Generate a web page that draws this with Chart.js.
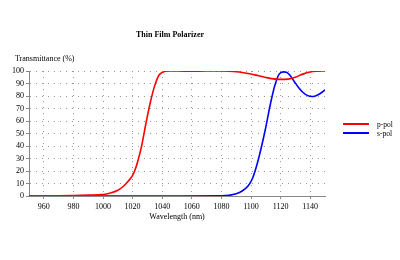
<!DOCTYPE html>
<html>
<head>
<meta charset="utf-8">
<script src="https://cdn.jsdelivr.net/npm/chart.js@4.4.0/dist/chart.umd.min.js"></script>
<style>
  html, body { margin: 0; padding: 0; background: #fff; }
  #wrap { width: 400px; height: 260px; }
</style>
</head>
<body>
<div id="wrap"><canvas id="polar" width="400" height="260"></canvas></div>
<script>
// wavelength (nm) / transmittance (%)
var pWave = [950, 970, 980, 990, 1000, 1005, 1010, 1014, 1017, 1020, 1022, 1024, 1026, 1029, 1032, 1035, 1038, 1041, 1044, 1050, 1060, 1070, 1080, 1085, 1090, 1095, 1100, 1105, 1110, 1115, 1120, 1125, 1130, 1135, 1140, 1145, 1150];
var pVals = [0, 0.2, 0.4, 0.7, 1.2, 2.4, 4.6, 8, 11.8, 16.5, 22, 30, 39.5, 58, 75, 88.5, 97, 99.3, 100, 100, 99.8, 100, 100, 99.8, 99.4, 98.6, 97.6, 96.2, 94.8, 93.7, 93.3, 93.5, 95, 97.5, 99.2, 99.8, 100];
var sWave = [950, 1000, 1050, 1080, 1085, 1090, 1094, 1098, 1101, 1104, 1107, 1110, 1113, 1116, 1119, 1122, 1124, 1126, 1129, 1132, 1135, 1138, 1141, 1143, 1145, 1148, 1150];
var sVals = [0, 0, 0, 0.1, 0.5, 1.8, 4, 8, 14, 25, 39, 55, 73, 88, 97.5, 99.3, 99, 97, 92, 87, 83, 80.5, 79.6, 79.8, 80.8, 83, 85];
var xTicks = [960, 980, 1000, 1020, 1040, 1060, 1080, 1100, 1120, 1140];
var yTicks = [0, 10, 20, 30, 40, 50, 60, 70, 80, 90, 100];
var seriesNames = ['p-pol', 's-pol'];
var seriesColors = ['rgb(255,0,0)', 'rgb(0,0,255)'];

function toPoints(xs, ys) {
  return xs.map(function(x, i){ return {x: x, y: ys[i]}; });
}

var serif = "'Liberation Serif', 'DejaVu Serif', serif";

// title, axis titles and legend
var textPlugin = {
  id: 'texts',
  afterDraw: function(chart) {
    var c = chart.ctx, a = chart.chartArea;
    c.save();
    c.fillStyle = '#000';
    c.textBaseline = 'middle';
    c.font = 'bold 8px ' + serif;
    c.textAlign = 'center';
    c.fillText('Thin Film Polarizer', 170, 35);
    c.font = '8px ' + serif;
    c.textAlign = 'left';
    c.fillText('Transmittance (%)', 15, 59);
    c.textAlign = 'center';
    c.fillText('Wavelength (nm)', (a.left + a.right) / 2, 217);
    c.font = '7.5px ' + serif;
    seriesNames.forEach(function(name, i){
      var y = 124 + i * 9;
      c.strokeStyle = seriesColors[i];
      c.lineWidth = 2;
      c.beginPath();
      c.moveTo(343, y);
      c.lineTo(369, y);
      c.stroke();
      c.textAlign = 'left';
      c.fillText(name, 377, y + 1);
    });
    c.restore();
  }
};

var ctx = document.getElementById('polar');
var myChart = new Chart(ctx, {
  type: 'line',
  data: {
    datasets: [{
      label: seriesNames[0],
      data: toPoints(pWave, pVals),
      borderColor: seriesColors[0],
      borderWidth: 1.6,
      pointRadius: 0,
      cubicInterpolationMode: 'monotone',
      fill: false
    }, {
      label: seriesNames[1],
      data: toPoints(sWave, sVals),
      borderColor: seriesColors[1],
      borderWidth: 1.6,
      pointRadius: 0,
      cubicInterpolationMode: 'monotone',
      fill: false
    }]
  },
  options: {
    responsive: false,
    animation: false,
    layout: { padding: { left: 0, right: 75, top: 71, bottom: 0 } },
    plugins: { legend: { display: false }, title: { display: false }, tooltip: { enabled: false } },
    scales: {
      x: {
        type: 'linear',
        min: 950,
        max: 1150,
        afterBuildTicks: function(s){ s.ticks = xTicks.map(function(v){ return {value: v}; }); },
        afterFit: function(s){ s.height = 64; },
        border: { color: '#888', width: 1, dash: [1, 5] },
        grid: { color: '#999', lineWidth: 1, tickLength: 3, tickBorderDash: [], tickColor: '#888' },
        ticks: {
          color: '#000', font: { family: serif, size: 8 }, padding: 3, maxRotation: 0, autoSkip: false,
          callback: function(v){ return String(v); }
        }
      },
      y: {
        min: 0,
        max: 100,
        afterBuildTicks: function(s){ s.ticks = yTicks.map(function(v){ return {value: v}; }); },
        afterFit: function(s){ s.width = 29; },
        border: { color: '#888', width: 1, dash: [1, 5] },
        grid: { color: '#999', lineWidth: 1, tickLength: 3, tickBorderDash: [], tickColor: '#888' },
        ticks: { color: '#000', font: { family: serif, size: 8 }, padding: 2, autoSkip: false }
      }
    }
  },
  plugins: [textPlugin]
});
</script>
</body>
</html>
